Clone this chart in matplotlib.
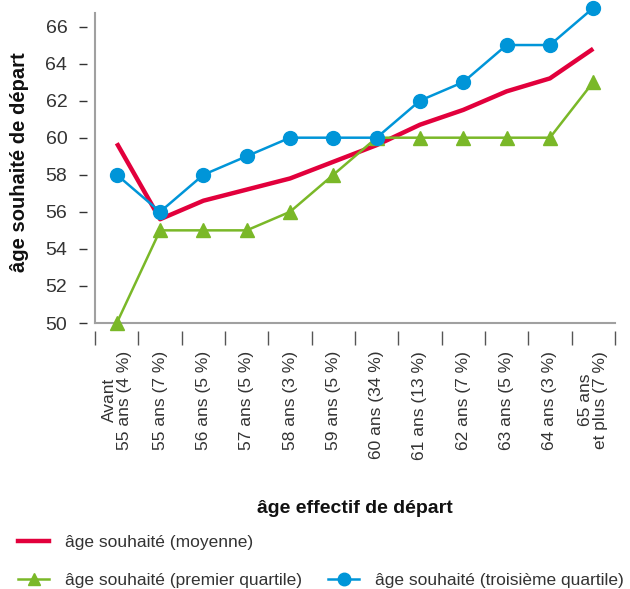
import matplotlib.pyplot as plt
from matplotlib.lines import Line2D

# categories (effective retirement age, share of retirees)
categories = ["Avant\n55 ans (4 %)", "55 ans (7 %)", "56 ans (5 %)", "57 ans (5 %)",
              "58 ans (3 %)", "59 ans (5 %)", "60 ans (34 %)", "61 ans (13 %)",
              "62 ans (7 %)", "63 ans (5 %)", "64 ans (3 %)", "65 ans\net plus (7 %)"]

# wished retirement age
moyenne = [59.7, 55.6, 56.6, 57.2, 57.8, 58.7, 59.6, 60.7, 61.5, 62.5, 63.2, 64.8]
premier_quartile = [50, 55, 55, 55, 56, 58, 60, 60, 60, 60, 60, 63]
troisieme_quartile = [58, 56, 58, 59, 60, 60, 60, 62, 63, 65, 65, 67]

y_ticks = [50, 52, 54, 56, 58, 60, 62, 64, 66]

RED = "#e2003c"
GREEN = "#7ab828"
BLUE = "#0095d8"
GREY = "#a0a0a0"
TXT = "#333333"

plt.rcParams['font.family'] = ['Liberation Sans', 'DejaVu Sans']

fig = plt.figure(figsize=(6.3, 5.89), dpi=100)
ax = fig.add_axes([0.151, 0.4516, 0.825, 0.527])

x = list(range(len(categories)))

ax.plot(x, moyenne, color=RED, lw=3.2, solid_capstyle='butt', zorder=3, clip_on=False)
ax.plot(x, premier_quartile, color=GREEN, lw=1.8, marker='^', ms=10, zorder=4, clip_on=False)
ax.plot(x, troisieme_quartile, color=BLUE, lw=1.8, marker='o', ms=10, zorder=5, clip_on=False)

ax.set_xlim(-0.5, 11.5)
ax.set_ylim(50, 66.75)

# detached ticks: move spines outward, hide them, draw the real axis lines by hand
for side in ['top', 'right']:
    ax.spines[side].set_visible(False)
ax.spines['left'].set_position(('outward', 6))
ax.spines['bottom'].set_position(('outward', 6))
ax.spines['left'].set_visible(False)
ax.spines['bottom'].set_visible(False)
ax.plot([0, 0], [0, 1], transform=ax.transAxes, color=GREY, lw=1.5, clip_on=False, zorder=1)
ax.plot([0, 1], [0, 0], transform=ax.transAxes, color=GREY, lw=1.5, clip_on=False, zorder=1)

ax.set_yticks(y_ticks)
ax.set_yticklabels([str(v) for v in y_ticks], fontsize=14, color=TXT)
ax.tick_params(axis='y', length=6, width=1, color=TXT, pad=8)

ax.set_xticks([i - 0.5 for i in range(len(categories) + 1)], minor=True)
ax.set_xticks(x)
ax.set_xticklabels(categories, rotation=90, fontsize=12.5, color=TXT,
                   va='top', ha='center', linespacing=1.0)
ax.tick_params(axis='x', which='major', length=0, pad=14)
ax.tick_params(axis='x', which='minor', length=10, width=1, color="#555555")

ax.set_ylabel("âge souhaité de départ", fontsize=14.5, fontweight='bold', color="#111111", va='center')
ax.yaxis.set_label_coords(-0.145, 0.519)
ax.set_xlabel("âge effectif de départ", fontsize=14, fontweight='bold', color="#111111", va='center')
ax.xaxis.set_label_coords(0.5, -0.596)

handles = [
    Line2D([], [], color=RED, lw=3.2),
    Line2D([], [], color=GREEN, lw=1.8, marker='^', ms=9),
    Line2D([], [], color='none'),
    Line2D([], [], color=BLUE, lw=1.8, marker='o', ms=9),
]
labels = ["âge souhaité (moyenne)", "âge souhaité (premier quartile)", "",
          "âge souhaité (troisième quartile)"]
leg = fig.legend(handles, labels, ncol=2, loc='upper left', bbox_to_anchor=(18 / 630, 1 - 535 / 589),
                 frameon=False, fontsize=12.5, handlelength=1.8, handletextpad=0.9,
                 columnspacing=1.5, labelspacing=1.3, borderpad=0, borderaxespad=0)
for t in leg.get_texts():
    t.set_color(TXT)

fig.savefig("out.png", dpi=100)
